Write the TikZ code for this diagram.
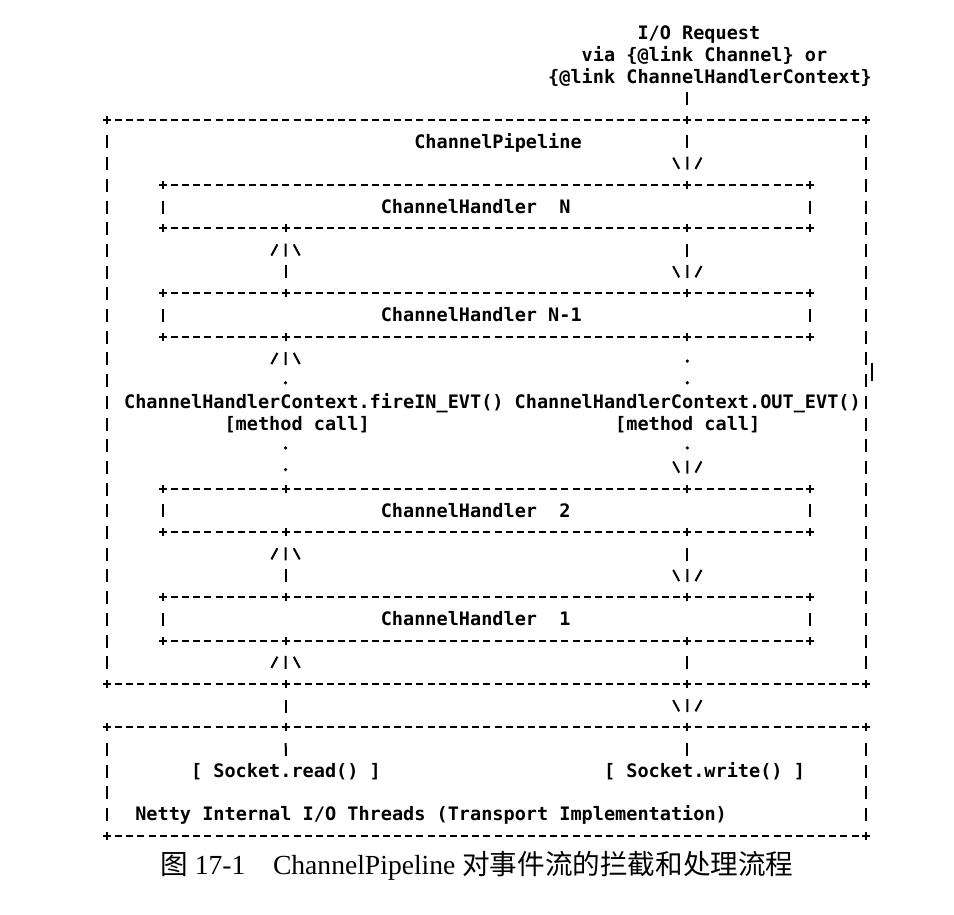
\documentclass[tikz,border=0pt]{standalone}
\usepackage{fontspec}
\setmainfont{Liberation Serif}
\newfontfamily\asciifont{DejaVu Sans Mono}
\newfontfamily\cjkfont{Noto Sans CJK SC}

\begin{document}
\begin{tikzpicture}[x=5.58pt,y=-10.85pt,
  ascii/.style={anchor=west,inner sep=0pt,text height=8.8pt,text depth=2.05pt,
    font=\asciifont\bfseries\fontsize{9.27pt}{10.85pt}\selectfont},
  hdash/.style={line width=1pt,dash pattern=on 3.5pt off 2.08pt,dash phase=4.54pt},
  vdash/.style={line width=1pt,dash pattern=on 6.5pt off 4.35pt,dash phase=8.675pt},
  junction/.style={fill=white,inner sep=0pt,minimum width=5.58pt,minimum height=10.85pt,
    path picture={\draw[line width=1pt]
      ([xshift=-2pt]path picture bounding box.center) -- ([xshift=2pt]path picture bounding box.center)
      ([yshift=-2pt]path picture bounding box.center) -- ([yshift=2pt]path picture bounding box.center);}},
  head/.style={fill=white,inner sep=0pt,minimum width=16.74pt,minimum height=10.85pt},
  uphead/.style={head,path picture={\draw[line width=1pt]
      ([yshift=-3.25pt]path picture bounding box.center) -- ++(0pt,6.5pt)
      ([shift={(-7.08pt,-2.8pt)}]path picture bounding box.center) -- ++(3pt,5.6pt)
      ([shift={(4.08pt,2.8pt)}]path picture bounding box.center) -- ++(3pt,-5.6pt);}},
  downhead/.style={head,path picture={\draw[line width=1pt]
      ([yshift=-3.25pt]path picture bounding box.center) -- ++(0pt,6.5pt)
      ([shift={(-7.08pt,2.8pt)}]path picture bounding box.center) -- ++(3pt,-5.6pt)
      ([shift={(4.08pt,-2.8pt)}]path picture bounding box.center) -- ++(3pt,5.6pt);}},
  dotmark/.style={circle,fill,inner sep=0pt,minimum size=1.8pt}]

\path[fill=white] (-9.588,-1.521) rectangle (75.896,40.645);

% request coming in from the top
\node[ascii] (reqA) at (47.5,0) {I/O Request};
\node[ascii] (reqB) at (42.5,1) {via \{@link Channel\} or};
\node[ascii] (reqC) at (39.5,2) {\{@link ChannelHandlerContext\}};

% junctions
\foreach \c/\r in {0/4,52/4,68/4,0/30,16/30,52/30,68/30,5/7,52/7,63/7,0/32,16/32,52/32,68/32,0/37,68/37}
  \node[junction] (j\c-\r) at (\c,\r) {};
\foreach \r in {9,12,14,21,23,26,28}
  \foreach \c in {5,16,52,63}
    \node[junction] (j\c-\r) at (\c,\r) {};

% ChannelPipeline frame
\draw[hdash] (j0-4) -- (j52-4) -- (j68-4);
\draw[hdash] (j0-30) -- (j16-30) -- (j52-30) -- (j68-30);
\draw[vdash] (j0-4) -- (j0-30);
\draw[vdash] (j68-4) -- (j68-30);
\draw[line width=1pt] (68.55,15.2) -- (68.55,16.05);
\node[ascii] (pipe) at (27.5,5) {ChannelPipeline};

% handler boxes
\draw[hdash] (j5-7) -- (j52-7) -- (j63-7);
\foreach \r in {9,12,14,21,23,26,28}
  \draw[hdash] (j5-\r) -- (j16-\r) -- (j52-\r) -- (j63-\r);
\foreach \r/\s in {7/9,12/14,21/23,26/28} {
  \draw[vdash] (j5-\r) -- (j5-\s);
  \draw[vdash] (j63-\r) -- (j63-\s);
}
\node[ascii] (hN) at (24.5,8) {ChannelHandler~~N};
\node[ascii] (hN1) at (24.5,13) {ChannelHandler N-1};
\node[ascii] (h2) at (24.5,22) {ChannelHandler~~2};
\node[ascii] (h1) at (24.5,27) {ChannelHandler~~1};

% method calls between N-1 and 2
\node[ascii] (ctxIn) at (1.5,17) {ChannelHandlerContext.fireIN\_EVT()};
\node[ascii] (ctxOut) at (36.5,17) {ChannelHandlerContext.OUT\_EVT()};
\node[ascii] (callIn) at (10.5,18) {[method call]};
\node[ascii] (callOut) at (45.5,18) {[method call]};

% transport box
\draw[hdash] (j0-32) -- (j16-32) -- (j52-32) -- (j68-32);
\draw[hdash] (j0-37) -- (j68-37);
\draw[vdash] (j0-32) -- (j0-37);
\draw[vdash] (j68-32) -- (j68-37);
\node[ascii] (sockR) at (7.5,34) {[ Socket.read() ]};
\node[ascii] (sockW) at (44.5,34) {[ Socket.write() ]};
\node[ascii] (netty) at (2.5,36) {Netty Internal I/O Threads (Transport Implementation)};

% inbound (up) and outbound (down) flow
\draw[vdash] (j52-4 |- reqC.south) -- (j52-4);
\node[downhead] (d0) at (52,6) {};
\draw[vdash] (j52-4) -- (d0);
\node[uphead] (u1) at (16,10) {};
\draw[vdash] (j16-12) -- (u1);
\node[downhead] (d1) at (52,11) {};
\draw[vdash] (j52-9) -- (d1);
\node[uphead] (u2) at (16,15) {};
\node[downhead] (d2) at (52,20) {};
\foreach \c/\r [count=\i] in {16/16,16/19,16/20,52/15,52/16,52/19}
  \node[dotmark] (dot\i) at (\c,\r+0.12) {};
\node[uphead] (u3) at (16,24) {};
\draw[vdash] (j16-26) -- (u3);
\node[downhead] (d3) at (52,25) {};
\draw[vdash] (j52-23) -- (d3);
\node[uphead] (u4) at (16,29) {};
\draw[vdash] (j52-28) -- (j52-30);
\draw[vdash] (j16-30) -- (j16-32);
\node[downhead] (d4) at (52,31) {};
\draw[vdash] (j16-32) -- (sockR);
\draw[vdash] (j52-32) -- (j52-32 |- sockW.north);

\node[font=\fontsize{13.8pt}{16pt}\selectfont] (caption) at (33.15,38.39)
  {{\cjkfont 图} 17-1\hspace{1em}ChannelPipeline {\cjkfont 对事件流的拦截和处理流程}};
\end{tikzpicture}
\end{document}
